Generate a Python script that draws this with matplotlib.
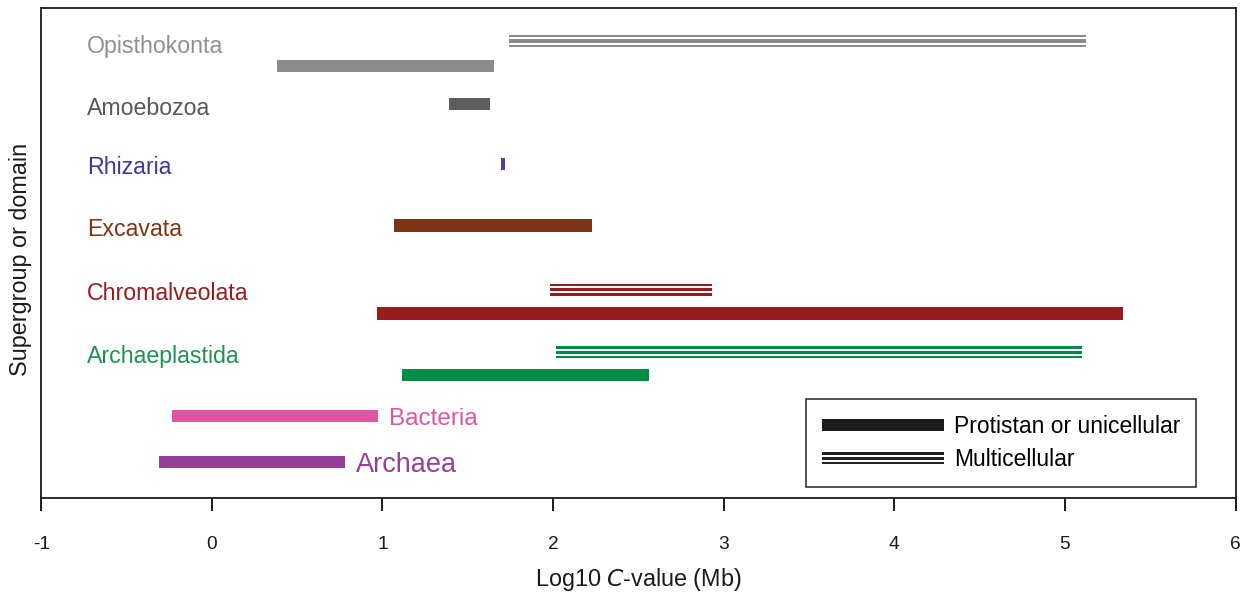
import matplotlib
matplotlib.use("Agg")
import matplotlib.pyplot as plt
from matplotlib.patches import Rectangle
from matplotlib.legend_handler import HandlerBase

# ---------------- data ----------------
groups = ["Opisthokonta", "Amoebozoa", "Rhizaria", "Excavata",
          "Chromalveolata", "Archaeplastida", "Bacteria", "Archaea"]
# protistan / unicellular ranges (log10 C-value, Mb)
uni_start = [0.38, 1.39, 1.697, 1.07, 0.97, 1.115, -0.232, -0.31]
uni_end = [1.652, 1.633, 1.716, 2.226, 5.343, 2.562, 0.975, 0.779]
# multicellular ranges (None = no multicellular members)
multi_start = [1.74, None, None, None, 1.982, 2.02, None, None]
multi_end = [5.121, None, None, None, 2.934, 5.098, None, None]
xticks = [-1, 0, 1, 2, 3, 4, 5, 6]
legend_labels = ["Protistan or unicellular", "Multicellular"]

# ---------------- styles / layout ----------------
bar_colors = ["#8b8b8d", "#5e5e60", "#4a3fa5", "#7b3515",
              "#9a1b1e", "#008c47", "#df55a0", "#953f98"]
text_colors = ["#909092", "#58585a", "#3b3a98", "#7b3515",
               "#9a1b1e", "#1a9450", "#df55a0", "#953f98"]
# vertical layout in pixel rows (y axis runs in screen pixels, top->down)
label_base = [53.3, 115, 174, 236, 300, 363.3, 425, 472.3]
uni_y = [66, 104, 164, 225.5, 313.3, 375, 416, 462]
multi_y = [41, None, None, None, 289.7, 352.3, None, None]
label_inside = [True, True, True, True, True, True, False, False]
label_size = [16.7, 16.7, 16.7, 16.7, 16.7, 16.7, 17.5, 19.5]
UNI_H = 12.5
MULTI_LAYERS = [(-4.8, 2.4), (0.0, 3.2), (4.8, 2.6)]  # (offset px, height px)

plt.rcParams["font.family"] = ["Liberation Sans", "DejaVu Sans"]

W, H = 1247, 596
fig = plt.figure(figsize=(W / 100, H / 100), dpi=100)
ax_left, ax_right, ax_top, ax_bot = 41.2, 1235.5, 8.0, 497.5
ax = fig.add_axes([ax_left / W, (H - ax_bot) / H,
                   (ax_right - ax_left) / W, (ax_bot - ax_top) / H])
ax.set_xlim(-1, 6)
ax.set_ylim(ax_bot, ax_top)

for i, g in enumerate(groups):
    c = bar_colors[i]
    ax.barh(uni_y[i], uni_end[i] - uni_start[i], left=uni_start[i],
            height=UNI_H, color=c, edgecolor="none")
    if multi_start[i] is not None:
        for off, h in MULTI_LAYERS:
            ax.barh(multi_y[i] + off, multi_end[i] - multi_start[i],
                    left=multi_start[i], height=h, color=c, edgecolor="none")
    if label_inside[i]:
        ax.text(-0.732, label_base[i], g, color=text_colors[i],
                fontsize=label_size[i], ha="left", va="baseline")
    else:
        ax.annotate(g, xy=(uni_end[i], label_base[i]), xytext=(8, 0),
                    textcoords="offset points", color=text_colors[i],
                    fontsize=label_size[i], ha="left", va="baseline")

# axes styling
for s in ax.spines.values():
    s.set_linewidth(1.3)
    s.set_color("#1a1a1a")
ax.set_yticks([])
ax.set_xticks(xticks)
ax.set_xticklabels([str(t) for t in xticks])
ax.tick_params(axis="x", direction="out", length=9.5, width=1.4,
               pad=18.5, labelsize=13.8, colors="#1a1a1a")

xl = ax.set_xlabel("Log10 $\\it{C}$-value (Mb)", fontsize=16.8, color="#1a1a1a")
xl.set_verticalalignment("baseline")
ax.xaxis.set_label_coords(0.5, (ax_bot - 585.7) / (ax_bot - ax_top))
yl = ax.set_ylabel("Supergroup or domain", fontsize=16.8, color="#1a1a1a")
yl.set_verticalalignment("center")
ax.yaxis.set_label_coords((21 - ax_left) / (ax_right - ax_left),
                          (ax_bot - 259) / (ax_bot - ax_top))


class BarHandler(HandlerBase):
    def __init__(self, layers, **kw):
        super().__init__(**kw)
        self.layers = layers  # (offset pt downward, height pt)

    def create_artists(self, legend, orig_handle, xdescent, ydescent,
                       width, height, fontsize, trans):
        cy = height / 2 - ydescent
        arts = []
        for off, h in self.layers:
            r = Rectangle((-xdescent, cy - off - h / 2), width, h,
                          facecolor=orig_handle.get_facecolor(),
                          edgecolor="none", transform=trans)
            arts.append(r)
        return arts


px2pt = 0.72
h_uni = Rectangle((0, 0), 1, 1, facecolor="#1c1c1c")
h_multi = Rectangle((0, 0), 1, 1, facecolor="#222222")
leg = ax.legend(
    [h_uni, h_multi], legend_labels,
    handler_map={
        h_uni: BarHandler([(0, UNI_H * px2pt)]),
        h_multi: BarHandler([(o * px2pt, hh * px2pt) for o, hh in MULTI_LAYERS]),
    },
    loc="lower right",
    bbox_to_anchor=((1196 - ax_left) / (ax_right - ax_left),
                    (ax_bot - 487) / (ax_bot - ax_top)),
    borderaxespad=0, fontsize=16.5, handlelength=5.3, handletextpad=0.45,
    labelspacing=0.45, borderpad=0.69, fancybox=False, framealpha=1,
    edgecolor="#222222",
)
leg.get_frame().set_linewidth(1.1)

fig.savefig("out.png", dpi=100)
